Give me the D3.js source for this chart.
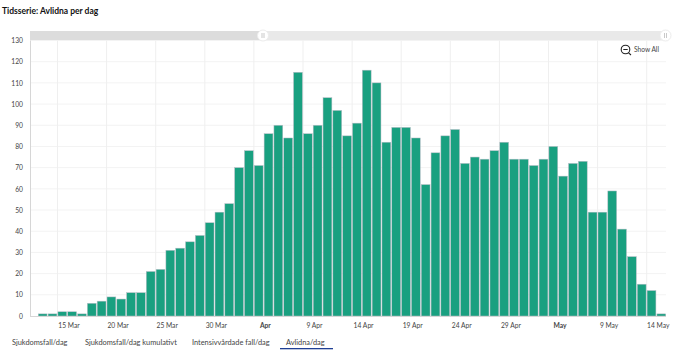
<!DOCTYPE html>
<html>
<head>
<meta charset="utf-8">
<script src="https://cdn.jsdelivr.net/npm/d3@7"></script>
<style>
  html, body { margin: 0; padding: 0; background: #fff; }
  text { font-family: Lato, "Noto Sans", sans-serif; fill: #444; }
  .axis text { font-size: 6.7px; }
  .axis path, .axis line { stroke: none; }
</style>
</head>
<body>
<svg id="chart" width="680" height="355" style="display:block"></svg>
<script>
// Data
var startDate = new Date(2020, 2, 12)
var deaths = [0, 1, 1, 2, 2, 1, 6, 7, 9, 8, 11, 11, 21, 22, 31, 32, 35, 38, 44, 49,
    53, 70, 78, 71, 86, 90, 84, 115, 86, 90, 103, 97, 85, 91, 116, 110, 82, 89, 89, 84,
    62, 77, 85, 88, 72, 75, 74, 78, 82, 74, 74, 71, 74, 80, 66, 72, 73, 49, 49, 59,
    41, 28, 15, 12, 1]
var yTicks = [0, 10, 20, 30, 40, 50, 60, 70, 80, 90, 100, 110, 120, 130]
var xTickDates = [[2, 15], [2, 20], [2, 25], [2, 30], [3, 4], [3, 9], [3, 14], [3, 19], [3, 24], [3, 29], [4, 4], [4, 9], [4, 14]]
var xTickLabels = ["15 Mar", "20 Mar", "25 Mar", "30 Mar", "Apr", "9 Apr", "14 Apr", "19 Apr", "24 Apr", "29 Apr", "May", "9 May", "14 May"]
var tabs = ["Sjukdomsfall/dag", "Sjukdomsfall/dag kumulativt", "Intensivvårdade fall/dag", "Avlidna/dag"]

var plotLeft = 30, plotRight = 666, plotTop = 40.5, plotBottom = 316

var data = deaths.map((v, i) => ({ date: d3.timeDay.offset(startDate, i), value: v }))
var ticks = xTickDates.map(d => new Date(2020, d[0], d[1]))

var svg = d3.select('#chart')

// Title
svg.append('text')
    .attr('x', 2).attr('y', 14)
    .style('font-size', '8.5px')
    .style('font-weight', 700)
    .style('fill', '#111')
    .text('Tidsserie: Avlidna per dag')

var xScale = d3.scaleTime()
    .domain([new Date(2020, 2, 15), new Date(2020, 4, 14)])
    .range([57.5, 646.7])

var yScale = d3.scaleLinear()
    .domain([0, 130])
    .range([plotBottom, plotTop])

// Grid
svg.append('g').selectAll('line')
    .data(yTicks.slice(1))
    .join('line')
    .attr('x1', plotLeft).attr('x2', plotRight)
    .attr('y1', d => yScale(d)).attr('y2', d => yScale(d))
    .attr('stroke', '#f3f3f3')

svg.append('g').selectAll('line')
    .data(ticks)
    .join('line')
    .attr('x1', d => xScale(d)).attr('x2', d => xScale(d))
    .attr('y1', plotTop).attr('y2', plotBottom)
    .attr('stroke', '#efefef')

// Bars
var dayWidth = xScale(new Date(2020, 2, 16)) - xScale(new Date(2020, 2, 15))
svg.append('g').selectAll('rect')
    .data(data)
    .join('rect')
    .attr('x', d => Math.max(plotLeft, xScale(d.date) + 0.4))
    .attr('y', d => yScale(d.value))
    .attr('width', dayWidth - 1)
    .attr('height', d => plotBottom - yScale(d.value))
    .attr('fill', '#19a080')
    .attr('stroke', '#b8bcc6')
    .attr('stroke-width', 0.5)

// Axes
var yAxis = d3.axisLeft(yScale).tickValues(yTicks).tickSize(0).tickPadding(7)
svg.append('g')
    .attr('class', 'axis')
    .attr('transform', `translate(${plotLeft},0)`)
    .call(yAxis)

var xAxis = d3.axisBottom(xScale)
    .tickValues(ticks)
    .tickSize(0)
    .tickPadding(7)
    .tickFormat((d, i) => xTickLabels[i])
var xGroup = svg.append('g')
    .attr('class', 'axis')
    .attr('transform', `translate(0,${plotBottom})`)
    .call(xAxis)
xGroup.selectAll('text')
    .attr('dx', 11)
    .style('font-weight', (d, i) => xTickLabels[i].indexOf(' ') < 0 ? 700 : 400)

svg.append('line').attr('x1', plotLeft + 0.5).attr('x2', plotLeft + 0.5).attr('y1', plotTop).attr('y2', plotBottom).attr('stroke', '#d6d6d6')
svg.append('line').attr('x1', plotLeft).attr('x2', plotRight).attr('y1', plotBottom + 0.5).attr('y2', plotBottom + 0.5).attr('stroke', '#d6d6d6')

// Range scrollbar on top
svg.append('rect').attr('x', plotLeft).attr('y', 31).attr('width', plotRight - plotLeft).attr('height', 9).attr('fill', '#e9e9e9')
svg.append('rect').attr('x', plotLeft).attr('y', 31).attr('width', 233).attr('height', 9).attr('fill', '#dcdcdc')
;[263, 665.5].forEach(x => {
    svg.append('circle').attr('cx', x).attr('cy', 35.5).attr('r', 5.5).attr('fill', '#fff').attr('stroke', '#ececec')
    svg.append('path').attr('d', `M${x - 1},33V38M${x + 1},33V38`).attr('stroke', '#bbb').attr('stroke-width', 0.8)
})

// Show All button
svg.append('circle').attr('cx', 625.5).attr('cy', 49.5).attr('r', 4.3).attr('fill', 'none').attr('stroke', '#222').attr('stroke-width', 1.1)
svg.append('path').attr('d', 'M623.3,49.5H627.7M628.6,52.8L631,55').attr('stroke', '#222').attr('stroke-width', 1.1)
svg.append('text').attr('x', 634).attr('y', 52).style('font-size', '6.6px').text('Show All')

// Tabs
var tabX = [12, 85, 192, 286]
svg.append('g').selectAll('text')
    .data(tabs)
    .join('text')
    .attr('x', (d, i) => tabX[i])
    .attr('y', 344.5)
    .style('font-size', '7.4px')
    .text(d => d)
svg.append('rect').attr('x', 280).attr('y', 348).attr('width', 53).attr('height', 1.3).attr('fill', '#1f3f95')
</script>
</body>
</html>
